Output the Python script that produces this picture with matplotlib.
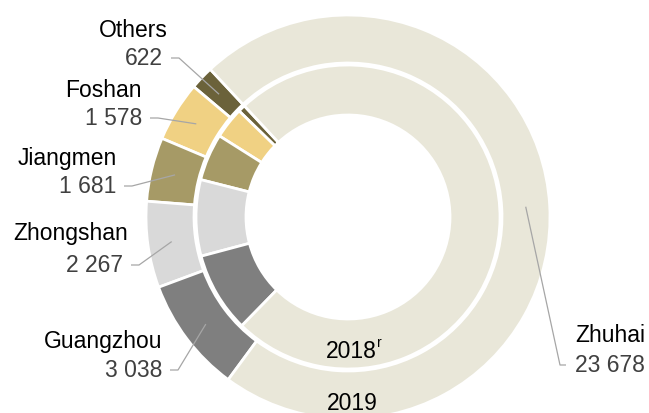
import numpy as np
import matplotlib
matplotlib.use("Agg")
import matplotlib.pyplot as plt

# wedge order: counter-clockwise starting at the top-left
regions = ["Others", "Foshan", "Jiangmen", "Zhongshan", "Guangzhou", "Zhuhai"]
values_2019 = [622, 1578, 1681, 2267, 3038, 23678]
values_2018 = [230, 1000, 1500, 2430, 2560, 22270]  # estimated from the inner ring
value_labels = ["622", "1 578", "1 681", "2 267", "3 038", "23 678"]
colors = ["#6B623A", "#F0D183", "#A69A66", "#D9D9D9", "#7F7F7F", "#E9E7D9"]

W, H = 649, 414
CX, CY = 348, H - 218
START = 133

plt.rcParams["font.family"] = ["Liberation Sans", "DejaVu Sans"]

fig = plt.figure(figsize=(W / 100, H / 100), dpi=100)
ax = fig.add_axes([0, 0, 1, 1])

wp = dict(edgecolor="white", linewidth=2)
ax.pie(values_2019, colors=colors, startangle=START, counterclock=True,
       radius=202, center=(CX, CY), wedgeprops=dict(width=48, **wp))
ax.pie(values_2018, colors=colors, startangle=START, counterclock=True,
       radius=152, center=(CX, CY), wedgeprops=dict(width=50, **wp))

ax.set_xlim(0, W)
ax.set_ylim(0, H)
ax.set_aspect("equal")
ax.axis("off")

# label placement in pixel coords (x, baseline of name, baseline of number, align)
label_pos = {
    "Others": (168, 37, 65, "right"),
    "Foshan": (142, 97, 125, "right"),
    "Jiangmen": (117, 165, 193, "right"),
    "Zhongshan": (128, 240, 272, "right"),
    "Guangzhou": (162, 348, 377, "right"),
    "Zhuhai": (575, 342, 372, "left"),
}
num_right = {"Others": 163, "Foshan": 142, "Jiangmen": 116, "Zhongshan": 123,
             "Guangzhou": 162, "Zhuhai": 575}

fs = 16.5
total = sum(values_2019)
cum = np.cumsum([0] + values_2019)
for i, name in enumerate(regions):
    x, yn, yv, ha = label_pos[name]
    ax.text(x, H - yn, name, ha=ha, va="baseline", fontsize=fs, color="black")
    ax.text(num_right[name], H - yv, value_labels[i], ha=ha, va="baseline",
            fontsize=fs, color="#404040")
    # leader line: from number to middle of outer wedge
    mid = np.deg2rad(START + (cum[i] + cum[i + 1]) / 2 / total * 360)
    ex, ey = CX + 178 * np.cos(mid), CY + 178 * np.sin(mid)
    ly = H - yv + 6
    if ha == "right":
        x0 = num_right[name] + 8
        xs = [x0, x0 + 8, ex]
    else:
        x0 = num_right[name] - 9
        xs = [x0, x0 - 6, ex]
    ax.plot(xs, [ly, ly, ey], color="#A6A6A6", lw=0.9, solid_capstyle="butt")

ax.text(351.5, H - 358, "2018", ha="center", va="baseline", fontsize=fs)
ax.text(377.5, H - 347, "r", ha="left", va="baseline", fontsize=10)
ax.text(352, H - 410, "2019", ha="center", va="baseline", fontsize=fs)

fig.savefig("out.png", dpi=100)
